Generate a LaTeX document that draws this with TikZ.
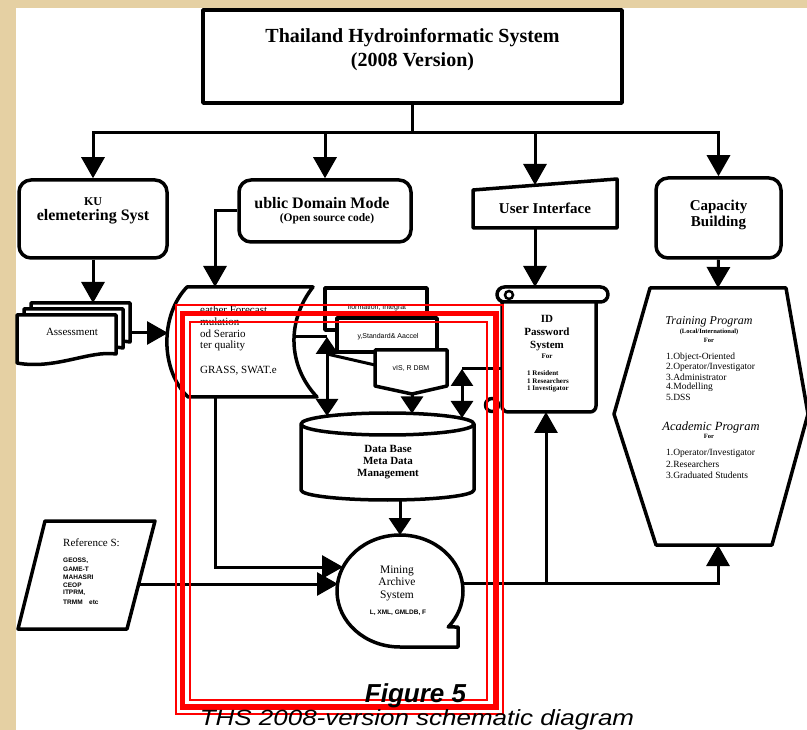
\documentclass[tikz,border=0pt]{standalone}
\usepackage{fontspec}
\setmainfont{Liberation Serif}
\setsansfont{Liberation Sans}
\newfontfamily\capfont[FakeStretch=1.18]{Liberation Sans}
\usetikzlibrary{arrows.meta}
\definecolor{parch}{RGB}{229,208,163}
\newcommand{\fsz}[2]{\fontsize{#1}{#2}\selectfont}
\tikzset{
  shp/.style={draw=black, line width=3.5pt, fill=white, line join=round},
  con/.style={draw=black, line width=3pt},
  arr/.style={con, -{Triangle[length=21pt,width=23pt]}},
  arrs/.style={con, -{Triangle[length=17pt,width=22pt]}},
  darr/.style={con, {Triangle[length=17pt,width=22pt]}-{Triangle[length=17pt,width=22pt]}},
  lbl/.style={inner sep=0pt, align=center},
}
\begin{document}
\begin{tikzpicture}[x=1pt,y=1pt]
\useasboundingbox (0,0) rectangle (807,-730);
\clip (0,0) rectangle (807,-730);
\fill[parch] (0,0) rectangle (807,-730);
\fill[white] (16,-8) rectangle (807,-730);

% ---------- top box
\node[shp, minimum width=419pt, minimum height=93pt, inner sep=0pt] (ths) at (412.5,-56.5) {};
\node[lbl, font=\bfseries\fsz{20}{24}] (thstxt) at (412.5,-50) {Thailand Hydroinformatic System\\(2008 Version)};

% ---------- second row
\node[shp, rounded corners=12pt, minimum width=148pt, minimum height=78pt, inner sep=0pt] (ku) at (93,-219) {};
\node[lbl, font=\bfseries\fsz{12}{14}] (kut1) at (93,-202) {KU};
\node[lbl, font=\bfseries\fsz{16}{18}] (kut2) at (93,-217) {elemetering Syst};

\node[shp, rounded corners=12pt, minimum width=172pt, minimum height=62pt, inner sep=0pt] (pdm) at (325,-211) {};
\node[lbl, font=\bfseries\fsz{16}{18}] (pdmt1) at (322,-203) {ublic Domain Mode};
\node[lbl, font=\bfseries\fsz{11.5}{13}] (pdmt2) at (327,-219) {(Open source code)};

\draw[shp] (473,-190) -- (617,-179) -- (617,-228) -- (473,-228) -- cycle;
\node[lbl, font=\bfseries\fsz{15}{17}] (ui) at (545,-208) {User Interface};
\coordinate (uitop) at (535,-185);
\coordinate (uibot) at (535,-228);

\node[shp, rounded corners=12pt, minimum width=125pt, minimum height=80pt, inner sep=0pt] (cap) at (718.5,-218) {};
\node[lbl, font=\bfseries\fsz{15}{16}] (capt) at (718.5,-215) {Capacity\\Building};

\coordinate (hub) at (412.5,-133);
\draw[con] (ths.south) -- (hub);
\draw[arr] (hub) -| (ku.north);
\draw[arr] (hub) -| (pdm.north);
\draw[arr] (hub) -| (uitop);
\draw[arr] (hub) -| (cap.north);

% ---------- assessment stack
\draw[shp] (31,-303) -- (130,-303) -- (130,-342) .. controls (110,-338) and (80,-350) .. (31,-347) -- cycle;
\draw[shp] (24,-309) -- (123,-309) -- (123,-348) .. controls (103,-344) and (73,-356) .. (24,-353) -- cycle;
\draw[shp] (17,-315) -- (116,-315) -- (116,-354) .. controls (90,-350) and (55,-370) .. (17,-363) -- cycle;
\node[lbl, font=\fsz{11}{12}] (asm) at (72,-332) {Assessment};
\coordinate (stacktop) at (93,-303);
\coordinate (stackr) at (130,-333);
\draw[arr] (ku.south) -- (stacktop);

% ---------- stored data (wave) shape
\draw[shp] (187,-287) -- (313,-287) .. controls (287,-320) and (287,-365) .. (317,-397) -- (188,-397) .. controls (160,-370) and (160,-315) .. (187,-287) -- cycle;
\coordinate (wavel) at (168,-333);
\coordinate (wavetop) at (215,-287);
\coordinate (wavebot) at (215,-397);
\coordinate (waver) at (293,-337);
\node[lbl, anchor=west, font=\fsz{11}{12}] (w1) at (200,-310) {eather Forecast};
\node[lbl, anchor=west, font=\fsz{11}{12}] (w2) at (200,-322) {mulation};
\node[lbl, anchor=west, font=\fsz{11}{12}] (w3) at (200,-334) {od Serario};
\node[lbl, anchor=west, font=\fsz{11}{12}] (w4) at (200,-346) {ter quality};
\node[lbl, anchor=west, font=\fsz{11}{12}] (w5) at (200,-371) {GRASS, SWAT.e};
\draw[arr] (stackr) -- (wavel);
\draw[arr] (pdm.west) -| (wavetop);

% ---------- middle stack
\draw[shp] (325,-288) rectangle (427,-330);
\draw[shp] (337,-318) rectangle (437,-352);
\draw[shp] (375,-350) -- (447,-350) -- (447,-386) -- (412,-394) -- (375,-386) -- cycle;
\node[lbl, font=\sffamily\fsz{7}{8}] (r1t) at (377,-308) {iformation, Integrat};
\node[lbl, font=\sffamily\fsz{7}{8}] (r2t) at (388,-337) {y,Standard\& Aaccel};
\node[lbl, font=\sffamily\fsz{7}{8}] (pt) at (411,-369) {vIS, R DBM};
\coordinate (pentl) at (375,-365);
\coordinate (pentb) at (412,-394);

% ---------- cylinder
\draw[shp] (301,-424) -- (301,-490) arc[start angle=180, end angle=360, x radius=86.5, y radius=10] -- (474,-424) arc[start angle=0, end angle=180, x radius=86.5, y radius=11] -- cycle;
\draw[shp, fill=none] (301,-424) arc[start angle=180, end angle=360, x radius=86.5, y radius=11];
\node[lbl, font=\bfseries\fsz{11}{12}] (dbt) at (388,-462) {Data Base\\Meta Data\\Management};
\coordinate (cyl1) at (327,-416);
\coordinate (cyl2) at (412,-413.5);
\coordinate (cyl3) at (462,-418);
\coordinate (cylbot) at (400,-500);

\coordinate (dl1) at (327,-337);
\coordinate (dl3) at (327,-354);
\draw[con] (waver) -- (dl1);
\draw[darr] (dl1) -- (cyl1);
\draw[con] (dl3) -- (pentl);
\draw[arrs] (pentb) -- (cyl2);

% ---------- scroll (ID password)
\draw[shp, rounded corners=6pt] (502,-298) -- (502,-412) -- (596,-412) -- (596,-298);
\draw[shp] (492,-405) circle (6.5);
\draw[shp, rounded corners=7.5pt] (497,-287) rectangle (608,-302);
\draw[black, line width=2.5pt] (509,-295) circle (4);
\node[lbl, font=\bfseries\fsz{11}{13}] (idt) at (547,-333) {ID\\Password\\System};
\node[lbl, font=\bfseries\fsz{7}{8}] (idf) at (547,-356) {For};
\node[lbl, anchor=west, font=\bfseries\fsz{7}{8}] (id1) at (527,-373) {1 Resident};
\node[lbl, anchor=west, font=\bfseries\fsz{7}{8}] (id2) at (527,-381) {1 Researchers};
\node[lbl, anchor=west, font=\bfseries\fsz{7}{8}] (id3) at (527,-389) {1 Investigator};
\coordinate (scrtop) at (535,-287);
\coordinate (scrl) at (502,-369);
\coordinate (scrbot) at (546,-412);
\coordinate (dr1) at (462,-369);
\draw[arr] (uibot) -- (scrtop);
\draw[darr] (dr1) -- (cyl3);
\draw[con] (dr1) -- (scrl);

% ---------- hexagon
\draw[shp] (650,-288) -- (786,-288) -- (808,-414) -- (772,-545) -- (656,-545) -- (614,-414) -- cycle;
\coordinate (hextop) at (718,-288);
\coordinate (hexbot) at (718,-545);
\draw[arr] (cap.south) -- (hextop);
\node[lbl, font=\itshape\fsz{12}{13}] (tp) at (709,-322) {Training Program};
\node[lbl, font=\bfseries\fsz{6.5}{7}] (tpl) at (709,-332) {(Local/International)};
\node[lbl, font=\bfseries\fsz{6.5}{7}] (tpf) at (709,-340) {For};
\node[lbl, anchor=west, font=\fsz{9.5}{10}] (t1) at (666,-357) {1.Object-Oriented};
\node[lbl, anchor=west, font=\fsz{9.5}{10}] (t2) at (666,-367) {2.Operator/Investigator};
\node[lbl, anchor=west, font=\fsz{9.5}{10}] (t3) at (666,-377) {3.Administrator};
\node[lbl, anchor=west, font=\fsz{9.5}{10}] (t4) at (666,-387) {4.Modelling};
\node[lbl, anchor=west, font=\fsz{9.5}{10}] (t5) at (666,-397) {5.DSS};
\node[lbl, font=\itshape\fsz{12.5}{13}] (ap) at (711,-427) {Academic Program};
\node[lbl, font=\bfseries\fsz{6.5}{7}] (apf) at (709,-436) {For};
\node[lbl, anchor=west, font=\fsz{9.5}{10}] (a1) at (666,-453) {1.Operator/Investigator};
\node[lbl, anchor=west, font=\fsz{9.5}{10}] (a2) at (666,-464) {2.Researchers};
\node[lbl, anchor=west, font=\fsz{9.5}{10}] (a3) at (666,-475) {3.Graduated Students};

% ---------- reference
\draw[shp] (45,-521) -- (155,-521) -- (127,-629) -- (18,-629) -- cycle;
\node[lbl, anchor=west, font=\fsz{11}{12}] (reft) at (63,-543) {Reference S:};
\node[lbl, anchor=west, font=\sffamily\bfseries\fsz{6.5}{7}] (rf1) at (63,-561) {GEOSS,};
\node[lbl, anchor=west, font=\sffamily\bfseries\fsz{6.5}{7}] (rf2) at (63,-569) {GAME-T};
\node[lbl, anchor=west, font=\sffamily\bfseries\fsz{6.5}{7}] (rf3) at (63,-577) {MAHASRI};
\node[lbl, anchor=west, font=\sffamily\bfseries\fsz{6.5}{7}] (rf4) at (63,-585) {CEOP};
\node[lbl, anchor=west, font=\sffamily\bfseries\fsz{6.5}{7}] (rf5) at (63,-593) {ITPRM,};
\node[lbl, anchor=west, font=\sffamily\bfseries\fsz{6.5}{7}] (rf6) at (63,-602) {TRMM\quad etc};
\coordinate (refr) at (139,-584);

% ---------- mining archive
\draw[shp] (400,-647) arc[start angle=270, end angle=-40, x radius=63, y radius=56] -- (458,-627) -- (458,-647) -- cycle;
\node[lbl, font=\fsz{11.5}{12.5}] (mas) at (397,-583) {Mining\\Archive\\System};
\node[lbl, font=\sffamily\bfseries\fsz{6.5}{7}] (masx) at (398,-613) {L, XML, GMLDB, F};
\coordinate (masin1) at (343,-567);
\coordinate (masin2) at (338,-584);
\coordinate (masout) at (463,-583);
\coordinate (mastop) at (400,-535);
\coordinate (masj) at (546,-583);

\draw[arrs] (cylbot) -- (mastop);
\draw[arr] (wavebot) |- (masin1);
\draw[arr] (refr) -- (masin2);
\draw[arr] (masout) -| (hexbot);
\draw[arr] (masj) -- (scrbot);

% ---------- red frame
\draw[red, line width=2pt] (175.5,-305.5) rectangle (503,-714);
\draw[red, line width=5.5pt] (182.5,-313.5) rectangle (496,-707);
\draw[red, line width=2.5pt] (190,-322) rectangle (487,-700);

% ---------- captions
\node[lbl, anchor=base, font=\sffamily\bfseries\itshape\fsz{26}{28}] (fig) at (415.5,-702) {Figure 5};
\node[lbl, anchor=base, font=\capfont\itshape\fsz{22}{24}] (cap2) at (417,-725) {THS 2008-version schematic diagram};
\end{tikzpicture}
\end{document}
